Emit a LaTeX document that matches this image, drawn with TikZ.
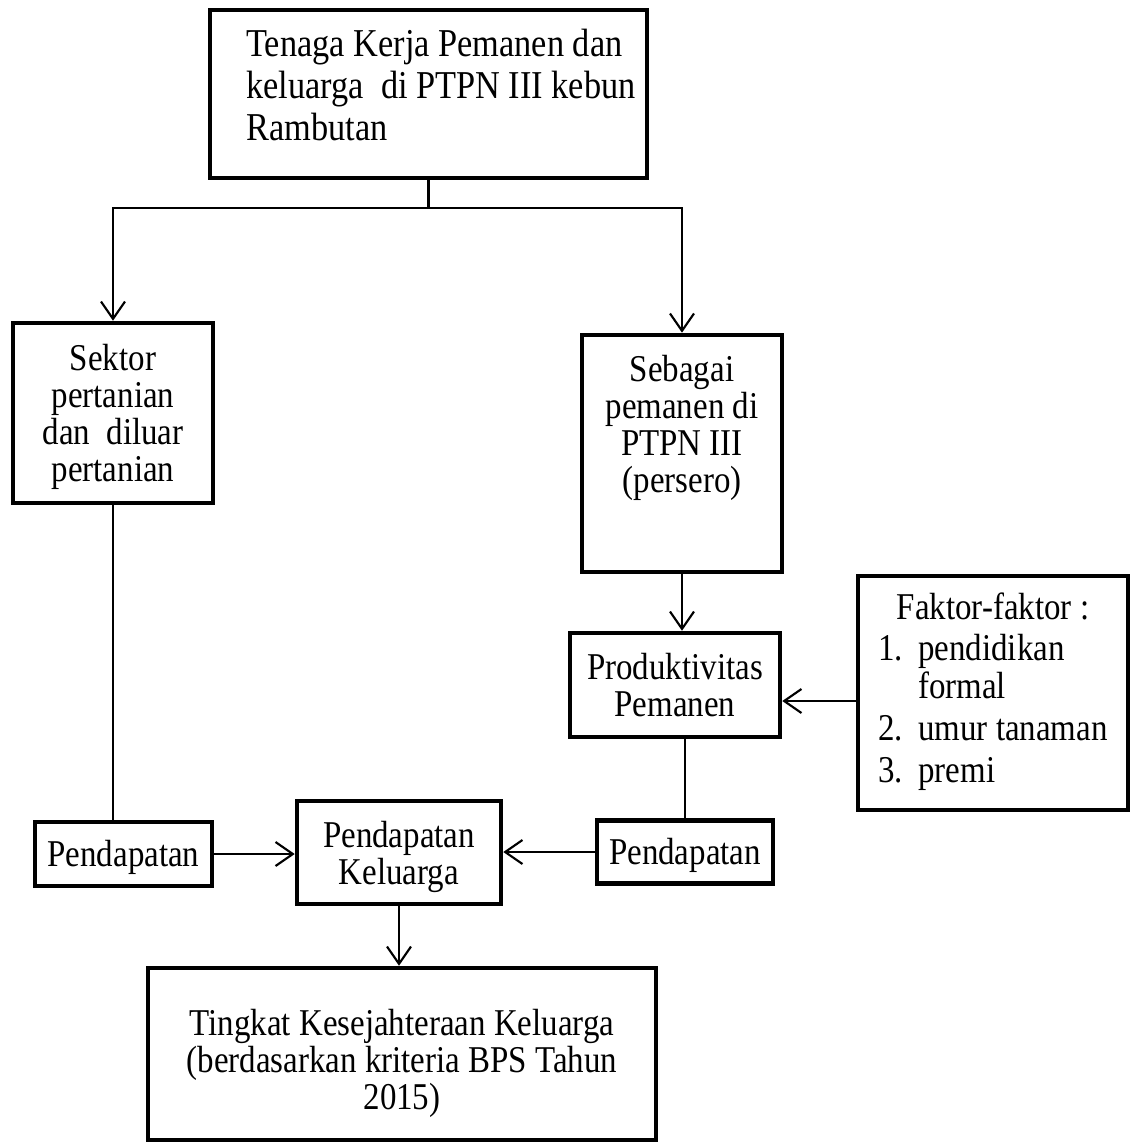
\documentclass[tikz,border=0pt]{standalone}
\usepackage{fontspec}
\setmainfont{Liberation Serif}[FakeStretch=0.87]
\usetikzlibrary{arrows.meta}

\begin{document}
\begin{tikzpicture}[x=0.375pt, y=-0.375pt,
  box/.style={draw, line width=1.7pt, align=center, inner sep=0pt, font=\fontsize{14.2}{13.9}\selectfont},
  link/.style={line width=0.8pt},
  arr/.style={link, -{Straight Barb[length=6.5pt, width=9pt]}}]
\useasboundingbox (0,0) rectangle (1135,1144);
\node[box, minimum width=164pt, minimum height=63pt, font=\fontsize{14.8}{15.75}\selectfont] (tenaga) at (428.5,94) {\begin{tabular}{@{\hspace{12.4pt}}l@{\hspace{3pt}}}Tenaga Kerja Pemanen dan\\keluarga\ \ di PTPN III kebun\\Rambutan\\[3pt]\end{tabular}};
\node[box, minimum width=75pt, minimum height=67.5pt] (sektor) at (113,413) {\rule{0pt}{12.7pt}Sektor\\pertanian\\dan\ \ diluar\\pertanian};
\node[box, minimum width=75pt, minimum height=88.9pt] (sebagai) at (682,453.5) {Sebagai\\pemanen di\\PTPN III\\(persero)\rule[-22pt]{0pt}{0pt}};
\node[box, minimum width=78.75pt, minimum height=39pt] (produktivitas) at (675,685) {Produktivitas\\Pemanen};
\node[box, minimum width=101.25pt, minimum height=87.75pt, font=\fontsize{14.2}{14.4}\selectfont] (faktor) at (993,693) {\begin{tabular}{@{}p{15pt}@{}l@{}}\multicolumn{2}{@{}c@{}}{Faktor-faktor :}\\[1pt] 1. & pendidikan\\ & formal\\[1.2pt] 2. & umur tanaman\\[1.2pt] 3. & premi\end{tabular}};
\node[box, minimum width=66.4pt, minimum height=24pt] (pendkiri) at (123.5,854) {\rule{0pt}{12.7pt}Pendapatan};
\node[box, minimum width=76.5pt, minimum height=38.6pt] (keluarga) at (399,852.5) {\rule{0pt}{13.4pt}Pendapatan\\Keluarga};
\node[box, minimum width=66pt, minimum height=23.6pt] (pendkanan) at (685,852) {\rule{0pt}{12.7pt}Pendapatan};
\node[box, minimum width=190.5pt, minimum height=64.5pt] (sejahtera) at (402,1054) {\rule{0pt}{16.7pt}Tingkat Kesejahteraan Keluarga\\(berdasarkan kriteria BPS Tahun\\2015)};

\coordinate (cabang) at (425,208);
\draw[link] (tenaga.south) -- (tenaga.south |- cabang);
\draw[arr] (tenaga.south |- cabang) -| (sektor.north);
\draw[arr] (tenaga.south |- cabang) -| (sebagai.north);
\draw[arr] (sebagai.south) -- (sebagai.south |- produktivitas.north);
\draw[arr] ([yshift=-3pt]faktor.west) -- ([yshift=-3pt]faktor.west -| produktivitas.east);
\draw[link] (pendkanan.north |- produktivitas.south) -- (pendkanan.north);
\draw[link] (sektor.south) -- (sektor.south |- pendkiri.north);
\draw[arr] (pendkiri.east) -- (pendkiri.east -| keluarga.west);
\draw[arr] (pendkanan.west) -- (pendkanan.west -| keluarga.east);
\draw[arr] (keluarga.south) -- (keluarga.south |- sejahtera.north);
\end{tikzpicture}
\end{document}
